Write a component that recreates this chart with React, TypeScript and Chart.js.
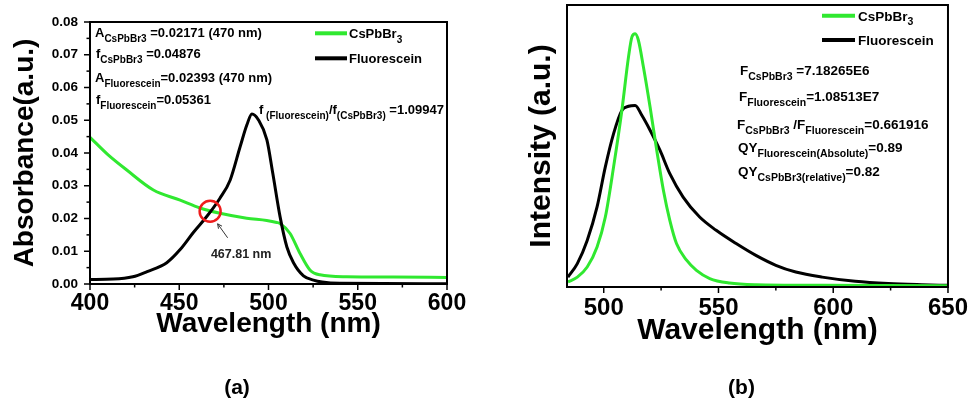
import { useEffect, useRef } from 'react';
import { Chart, registerables } from 'chart.js';

Chart.register(...registerables);

const FONT = '"Liberation Sans", Arial, Helvetica, sans-serif';
const GREEN = '#30e830';
const BLACK = '#000000';

// ---------- Panel (a): absorbance ----------
const absGreenWavelength = [400, 410, 420.6, 435.5, 450.5, 461.6, 472.8, 487.8, 499, 504.6, 506.4, 512, 517.6, 523.2, 528.8, 543.8, 570, 600];
const absGreenValues = [0.0448, 0.0395, 0.0348, 0.0287, 0.0256, 0.0232, 0.0216, 0.0201, 0.0194, 0.0188, 0.0185, 0.0155, 0.0094, 0.0043, 0.0028, 0.0022, 0.0021, 0.002];
const absBlackWavelength = [400, 413, 424, 432, 443, 450.5, 458, 465.4, 472.8, 478.5, 484.1, 487.9, 490.7, 494.4, 499.1, 502.4, 506.5, 510.3, 514, 519.6, 525.2, 530, 540, 600];
const absBlackValues = [0.0014, 0.0015, 0.0022, 0.0038, 0.0065, 0.0105, 0.0158, 0.0206, 0.0262, 0.0317, 0.0419, 0.0486, 0.0519, 0.0501, 0.044, 0.0338, 0.0205, 0.0113, 0.0065, 0.0025, 0.0012, 0.0006, 0.0002, 0.0001];
const absXTicks = [400, 450, 500, 550, 600];
const absXMinor = [425, 475, 525, 575];
const absYTicks = [0, 0.01, 0.02, 0.03, 0.04, 0.05, 0.06, 0.07, 0.08];
const absYTickLabels = ['0.00', '0.01', '0.02', '0.03', '0.04', '0.05', '0.06', '0.07', '0.08'];
const absYMinor = [0.005, 0.015, 0.025, 0.035, 0.045, 0.055, 0.065, 0.075];
const crossPoint = { x: 467.3, y: 0.0222, label: '467.81 nm' };

// ---------- Panel (b): photoluminescence ----------
const plGreenWavelength = [484.4, 488.5, 492.8, 497.1, 500.7, 504.3, 507.9, 510.8, 512.3, 513.7, 515.1, 517.3, 520.2, 523.1, 526, 528.8, 531.7, 536.1, 540.4, 546.2, 554.8, 566.4, 595.2, 650];
const plGreenValues = [0.018, 0.035, 0.071, 0.142, 0.248, 0.426, 0.626, 0.816, 0.887, 0.898, 0.875, 0.78, 0.638, 0.485, 0.343, 0.236, 0.154, 0.095, 0.059, 0.03, 0.014, 0.008, 0.006, 0.004];
const plBlackWavelength = [484.4, 488.5, 492.8, 497.1, 500.7, 504.3, 507.9, 510.8, 513.7, 516.6, 520.2, 524.5, 528.8, 534.6, 541.8, 549, 557.7, 566.3, 575, 583.7, 595.2, 609.6, 624, 638.5, 650];
const plBlackValues = [0.035, 0.083, 0.165, 0.284, 0.426, 0.544, 0.626, 0.641, 0.644, 0.609, 0.556, 0.485, 0.402, 0.319, 0.248, 0.201, 0.154, 0.112, 0.077, 0.053, 0.035, 0.02, 0.012, 0.008, 0.006];
const plXTicks = [500, 550, 600, 650];
const plXMinor = [525, 575, 625];

type Part = [string, boolean];
type Note = { dx: number; dy: number; parts: Part[] };

const bold = (s: number) => `bold ${s}px ${FONT}`;

function drawRich(ctx: CanvasRenderingContext2D, x: number, y: number, parts: Part[], main: number, sub: number, subDy: number) {
  let cx = x;
  ctx.textAlign = 'left';
  ctx.textBaseline = 'alphabetic';
  for (const [t, s] of parts) {
    ctx.font = bold(s ? sub : main);
    ctx.fillText(t, cx, s ? y + subDy : y);
    cx += ctx.measureText(t).width;
  }
}

function makeOverlay(spec: any) {
  return {
    id: 'overlay',
    afterDatasetsDraw(chart: any) {
      const { ctx, chartArea: ca, scales } = chart;
      const xs = scales.x;
      const ys = scales.y;
      ctx.save();
      ctx.strokeStyle = '#000';
      ctx.fillStyle = '#000';
      ctx.lineWidth = 2;
      ctx.strokeRect(ca.left, ca.top, ca.right - ca.left, ca.bottom - ca.top);
      ctx.lineWidth = 1.5;
      const seg = (a: number, b: number, c: number, d: number) => {
        ctx.beginPath();
        ctx.moveTo(a, b);
        ctx.lineTo(c, d);
        ctx.stroke();
      };
      spec.xMajor.forEach((v: number) => { const p = xs.getPixelForValue(v); seg(p, ca.bottom, p, ca.bottom + 6); });
      spec.xMinor.forEach((v: number) => { const p = xs.getPixelForValue(v); seg(p, ca.bottom, p, ca.bottom + 3.5); });
      (spec.yMajor || []).forEach((v: number) => { const p = ys.getPixelForValue(v); seg(ca.left, p, ca.left - 6, p); });
      (spec.yMinor || []).forEach((v: number) => { const p = ys.getPixelForValue(v); seg(ca.left, p, ca.left - 3.5, p); });

      // legend
      spec.legend.forEach((l: any) => {
        ctx.strokeStyle = l.color;
        ctx.lineWidth = 4;
        seg(ca.left + l.x1, ca.top + l.lineDy, ca.left + l.x2, ca.top + l.lineDy);
        ctx.fillStyle = '#000';
        drawRich(ctx, ca.left + l.tx, ca.top + l.textDy, l.parts, spec.legendMain, spec.legendSub, 4.5);
      });

      // notes
      ctx.fillStyle = '#000';
      spec.notes.forEach((n: Note) => {
        drawRich(ctx, ca.left + n.dx, ca.top + n.dy, n.parts, spec.noteMain, spec.noteSub, spec.noteSubDy);
      });

      if (spec.extra) spec.extra(ctx, ca, xs, ys);

      // panel label
      ctx.fillStyle = '#000';
      ctx.font = bold(21);
      ctx.textAlign = 'center';
      ctx.textBaseline = 'alphabetic';
      ctx.fillText(spec.panelLabel, spec.panelX, spec.panelY);
      ctx.restore();
    },
  };
}

const toPoints = (xs: number[], ys: number[]) => xs.map((x, i) => ({ x, y: ys[i] }));

function lineDs(label: string, data: any, color: string) {
  return {
    label,
    data,
    borderColor: color,
    backgroundColor: color,
    borderWidth: 3,
    pointRadius: 0,
    fill: false,
    cubicInterpolationMode: 'monotone' as const,
  };
}

const tickFont = (s: number) => ({ family: FONT, size: s, weight: 'bold' as const });

function absConfig(): any {
  const overlay = makeOverlay({
    xMajor: absXTicks,
    xMinor: absXMinor,
    yMajor: absYTicks,
    yMinor: absYMinor,
    legendMain: 13,
    legendSub: 10,
    legend: [
      { color: GREEN, x1: 225, x2: 257, lineDy: 11.3, tx: 259, textDy: 16, parts: [['CsPbBr', false], ['3', true]] },
      { color: BLACK, x1: 225, x2: 257, lineDy: 36.3, tx: 259, textDy: 41, parts: [['Fluorescein', false]] },
    ],
    noteMain: 13,
    noteSub: 10,
    noteSubDy: 5,
    notes: [
      { dx: 5, dy: 14.5, parts: [['A', false], ['CsPbBr3', true], [' =0.02171 (470 nm)', false]] },
      { dx: 6, dy: 35.5, parts: [['f', false], ['CsPbBr3', true], [' =0.04876', false]] },
      { dx: 5, dy: 59.5, parts: [['A', false], ['Fluorescein', true], ['=0.02393 (470 nm)', false]] },
      { dx: 6, dy: 81.5, parts: [['f', false], ['Fluorescein', true], ['=0.05361', false]] },
      { dx: 169, dy: 91.8, parts: [['f', false], [' (Fluorescein)', true], ['/f', false], ['(CsPbBr3)', true], [' =1.09947', false]] },
    ],
    extra: (ctx: CanvasRenderingContext2D, ca: any, xs: any, ys: any) => {
      const cx = xs.getPixelForValue(crossPoint.x);
      const cy = ys.getPixelForValue(crossPoint.y);
      ctx.strokeStyle = '#ee1c1c';
      ctx.lineWidth = 2.5;
      ctx.beginPath();
      ctx.arc(cx, cy, 10.5, 0, Math.PI * 2);
      ctx.stroke();
      // arrow
      const hx = cx + 7.5, hy = cy + 12.5;
      const tx = cx + 17.5, ty = cy + 26.5;
      ctx.strokeStyle = '#333';
      ctx.lineWidth = 1;
      ctx.beginPath();
      ctx.moveTo(tx, ty);
      ctx.lineTo(hx, hy);
      ctx.stroke();
      const ang = Math.atan2(hy - ty, hx - tx);
      ctx.beginPath();
      ctx.moveTo(hx, hy);
      ctx.lineTo(hx - 5 * Math.cos(ang - 0.45), hy - 5 * Math.sin(ang - 0.45));
      ctx.moveTo(hx, hy);
      ctx.lineTo(hx - 5 * Math.cos(ang + 0.45), hy - 5 * Math.sin(ang + 0.45));
      ctx.stroke();
      ctx.fillStyle = '#222';
      ctx.font = bold(12.5);
      ctx.textAlign = 'center';
      ctx.fillText(crossPoint.label, cx + 31, cy + 47);
    },
    panelLabel: '(a)',
    panelX: 237,
    panelY: 394,
  });
  return {
    type: 'line',
    data: {
      datasets: [
        lineDs('Fluorescein', toPoints(absBlackWavelength, absBlackValues), BLACK),
        lineDs('CsPbBr3', toPoints(absGreenWavelength, absGreenValues), GREEN),
      ],
    },
    options: {
      responsive: false,
      animation: false,
      devicePixelRatio: 1,
      layout: { padding: { left: 0, right: 33, top: 22, bottom: 0 } },
      plugins: { legend: { display: false }, tooltip: { enabled: false } },
      scales: {
        x: {
          type: 'linear',
          min: 400,
          max: 600,
          afterBuildTicks: (s: any) => { s.ticks = absXTicks.map((v) => ({ value: v })); },
          afterFit: (s: any) => { s.height = 118; },
          grid: { display: false, drawTicks: false },
          border: { display: false },
          ticks: { font: tickFont(23), color: '#000', padding: 6, autoSkip: false, maxRotation: 0, callback: (v: any) => String(v) },
          title: { display: true, text: 'Wavelength (nm)', color: '#000', font: tickFont(28), padding: { top: 0, bottom: 60.6 } },
        },
        y: {
          type: 'linear',
          min: 0,
          max: 0.08,
          afterBuildTicks: (s: any) => { s.ticks = absYTicks.map((v) => ({ value: v })); },
          afterFit: (s: any) => { s.width = 90; },
          grid: { display: false, drawTicks: false },
          border: { display: false },
          ticks: { font: tickFont(13.5), color: '#000', padding: 12, autoSkip: false, callback: (_v: any, i: number) => absYTickLabels[i] },
          title: { display: true, text: 'Absorbance(a.u.)', color: '#000', font: tickFont(28), padding: { top: 8.2, bottom: 0 } },
        },
      },
    },
    plugins: [overlay],
  };
}

function plConfig(): any {
  const overlay = makeOverlay({
    xMajor: plXTicks,
    xMinor: plXMinor,
    legendMain: 13.5,
    legendSub: 10.5,
    legend: [
      { color: GREEN, x1: 255, x2: 288, lineDy: 10.7, tx: 291, textDy: 15.6, parts: [['CsPbBr', false], ['3', true]] },
      { color: BLACK, x1: 255, x2: 288, lineDy: 35, tx: 291, textDy: 40, parts: [['Fluorescein', false]] },
    ],
    noteMain: 13.5,
    noteSub: 10.5,
    noteSubDy: 5.5,
    notes: [
      { dx: 173, dy: 69.8, parts: [['F', false], ['CsPbBr3', true], [' =7.18265E6', false]] },
      { dx: 172, dy: 95.5, parts: [['F', false], ['Fluorescein', true], ['=1.08513E7', false]] },
      { dx: 170, dy: 123.5, parts: [['F', false], ['CsPbBr3', true], [' /F', false], ['Fluorescein', true], ['=0.661916', false]] },
      { dx: 171, dy: 146.8, parts: [['QY', false], ['Fluorescein(Absolute)', true], ['=0.89', false]] },
      { dx: 171, dy: 170.8, parts: [['QY', false], ['CsPbBr3(relative)', true], ['=0.82', false]] },
    ],
    panelLabel: '(b)',
    panelX: 261.5,
    panelY: 394,
  });
  return {
    type: 'line',
    data: {
      datasets: [
        lineDs('CsPbBr3', toPoints(plGreenWavelength, plGreenValues), GREEN),
        lineDs('Fluorescein', toPoints(plBlackWavelength, plBlackValues), BLACK),
      ],
    },
    options: {
      responsive: false,
      animation: false,
      devicePixelRatio: 1,
      layout: { padding: { left: 0, right: 25, top: 5, bottom: 0 } },
      plugins: { legend: { display: false }, tooltip: { enabled: false } },
      scales: {
        x: {
          type: 'linear',
          min: 484,
          max: 650,
          afterBuildTicks: (s: any) => { s.ticks = plXTicks.map((v) => ({ value: v })); },
          afterFit: (s: any) => { s.height = 115; },
          grid: { display: false, drawTicks: false },
          border: { display: false },
          ticks: { font: tickFont(24), color: '#000', padding: 7, autoSkip: false, maxRotation: 0, callback: (v: any) => String(v) },
          title: { display: true, text: 'Wavelength (nm)', color: '#000', font: tickFont(30), padding: { top: 0, bottom: 53 } },
        },
        y: {
          type: 'linear',
          min: 0,
          max: 1,
          afterFit: (s: any) => { s.width = 87; },
          grid: { display: false, drawTicks: false },
          border: { display: false },
          ticks: { display: false },
          title: { display: true, text: 'Intensity (a.u.)', color: '#000', font: tickFont(30), padding: { top: 44, bottom: 0 } },
        },
      },
    },
    plugins: [overlay],
  };
}

export default function App() {
  const leftRef = useRef<HTMLCanvasElement>(null);
  const rightRef = useRef<HTMLCanvasElement>(null);

  useEffect(() => {
    const a = new Chart(leftRef.current as HTMLCanvasElement, absConfig());
    const b = new Chart(rightRef.current as HTMLCanvasElement, plConfig());
    return () => {
      a.destroy();
      b.destroy();
    };
  }, []);

  return (
    <div style={{ position: 'absolute', left: 0, top: 0, width: 975, height: 402, background: '#fff', overflow: 'hidden' }}>
      <div style={{ position: 'absolute', left: 0, top: 0, width: 480, height: 402 }}>
        <canvas ref={leftRef} width={480} height={402} style={{ width: 480, height: 402, display: 'block' }} />
      </div>
      <div style={{ position: 'absolute', left: 480, top: 0, width: 495, height: 402 }}>
        <canvas ref={rightRef} width={495} height={402} style={{ width: 495, height: 402, display: 'block' }} />
      </div>
    </div>
  );
}
